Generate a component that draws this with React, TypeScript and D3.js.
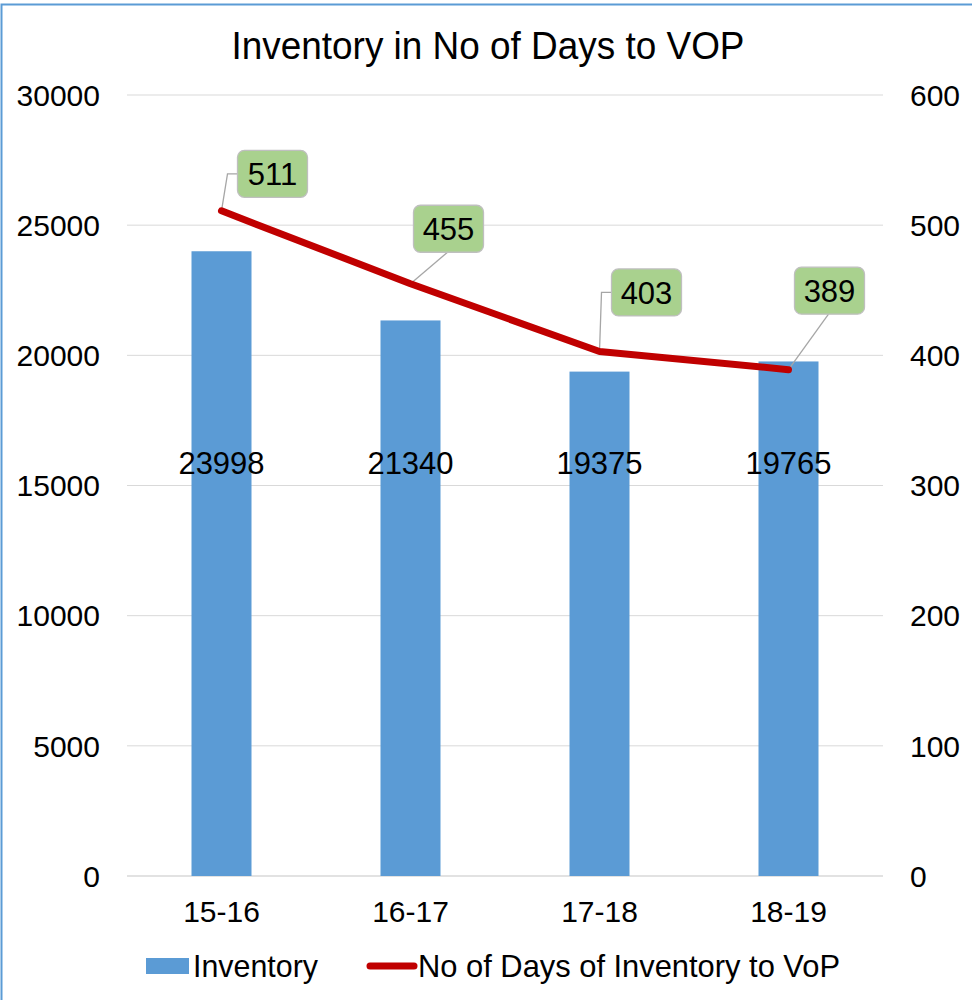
import React from "react";
import * as d3 from "d3";

const categories = ["15-16", "16-17", "17-18", "18-19"];
const inventory = [23998, 21340, 19375, 19765];
const daysOfInventory = [511, 455, 403, 389];
const leftTicks = [0, 5000, 10000, 15000, 20000, 25000, 30000];
const rightTicks = [0, 100, 200, 300, 400, 500, 600];
const title = "Inventory in No of Days to VOP";
const seriesNames = ["Inventory", "No of Days of Inventory to VoP"];

// callout layout (offsets of label box centre from its point, and leader style)
const callouts = [
  { dx: 51, dy: -37, leader: "left" },
  { dx: 38, dy: -55, leader: "bottom" },
  { dx: 47, dy: -59, leader: "left" },
  { dx: 41, dy: -79, leader: "bottom" },
];

const W = 972;
const H = 1000;
const FONT = "Arial, 'Liberation Sans', sans-serif";

export default function App() {
  const plot = { left: 127, right: 883, top: 95, bottom: 876 };
  const x = d3.scaleBand().domain(categories).range([plot.left, plot.right]);
  const yL = d3.scaleLinear().domain([0, 30000]).range([plot.bottom, plot.top]);
  const yR = d3.scaleLinear().domain([0, 600]).range([plot.bottom, plot.top]);
  const barW = 60;
  const cx = (c: string) => (x(c) as number) + x.bandwidth() / 2;

  const line = d3
    .line<number>()
    .x((_, i) => cx(categories[i]))
    .y((d) => yR(d));

  const boxW = 70;
  const boxH = 47;

  return (
    <svg
      width={W}
      height={H}
      style={{ position: "absolute", left: 0, top: 0, background: "#fff" }}
      fontFamily={FONT}
    >
      <rect x={1.5} y={4.5} width={W + 20} height={H + 20} fill="#fff" stroke="#5B9BD5" strokeWidth={2} />
      <text x={488} y={59} textAnchor="middle" fontSize={38} fill="#000" textLength={513} lengthAdjust="spacingAndGlyphs">
        {title}
      </text>
      {leftTicks.map((t) => (
        <g key={"g" + t}>
          <line x1={plot.left} x2={plot.right} y1={yL(t)} y2={yL(t)} stroke="#D9D9D9" strokeWidth={t === 0 ? 1.5 : 1} />
          <text x={100} y={yL(t)} dy="0.36em" textAnchor="end" fontSize={30}>
            {t}
          </text>
        </g>
      ))}
      {rightTicks.map((t) => (
        <text key={"r" + t} x={910} y={yR(t)} dy="0.36em" textAnchor="start" fontSize={30}>
          {t}
        </text>
      ))}
      {categories.map((c, i) => (
        <rect key={"b" + c} x={cx(c) - barW / 2} y={yL(inventory[i])} width={barW} height={yL(0) - yL(inventory[i])} fill="#5B9BD5" />
      ))}
      {categories.map((c, i) => (
        <text key={"bl" + c} x={cx(c)} y={474} textAnchor="middle" fontSize={31}>
          {inventory[i]}
        </text>
      ))}
      {categories.map((c) => (
        <text key={"c" + c} x={cx(c)} y={922} textAnchor="middle" fontSize={30}>
          {c}
        </text>
      ))}
      {categories.map((c, i) => {
        const px = cx(c);
        const py = yR(daysOfInventory[i]);
        const co = callouts[i];
        const bx = px + co.dx;
        const by = py + co.dy;
        const pts =
          co.leader === "left"
            ? [[bx - boxW / 2, by], [bx - boxW / 2 - 10, by], [px, py]]
            : [[bx - 1, by + boxH / 2], [px, py]];
        return (
          <polyline key={"ld" + c} points={pts.map((p) => p.join(",")).join(" ")} fill="none" stroke="#A6A6A6" strokeWidth={1.3} />
        );
      })}
      <path d={line(daysOfInventory) || ""} fill="none" stroke="#C00000" strokeWidth={7} strokeLinejoin="round" strokeLinecap="round" />
      {categories.map((c, i) => {
        const px = cx(c);
        const py = yR(daysOfInventory[i]);
        const co = callouts[i];
        const bx = px + co.dx;
        const by = py + co.dy;
        return (
          <g key={"cb" + c}>
            <rect x={bx - boxW / 2} y={by - boxH / 2} width={boxW} height={boxH} rx={7} fill="#A9D18E" stroke="#BFBFBF" strokeWidth={1.3} />
            <text x={bx} y={by} dy="0.36em" textAnchor="middle" fontSize={31}>
              {daysOfInventory[i]}
            </text>
          </g>
        );
      })}
      <rect x={146} y={958} width={43} height={16} fill="#5B9BD5" />
      <text x={193} y={977} fontSize={32} textLength={125} lengthAdjust="spacingAndGlyphs">
        {seriesNames[0]}
      </text>
      <line x1={370} x2={414} y1={966} y2={966} stroke="#C00000" strokeWidth={7} strokeLinecap="round" />
      <text x={418} y={977} fontSize={32} textLength={422} lengthAdjust="spacingAndGlyphs">
        {seriesNames[1]}
      </text>
    </svg>
  );
}
